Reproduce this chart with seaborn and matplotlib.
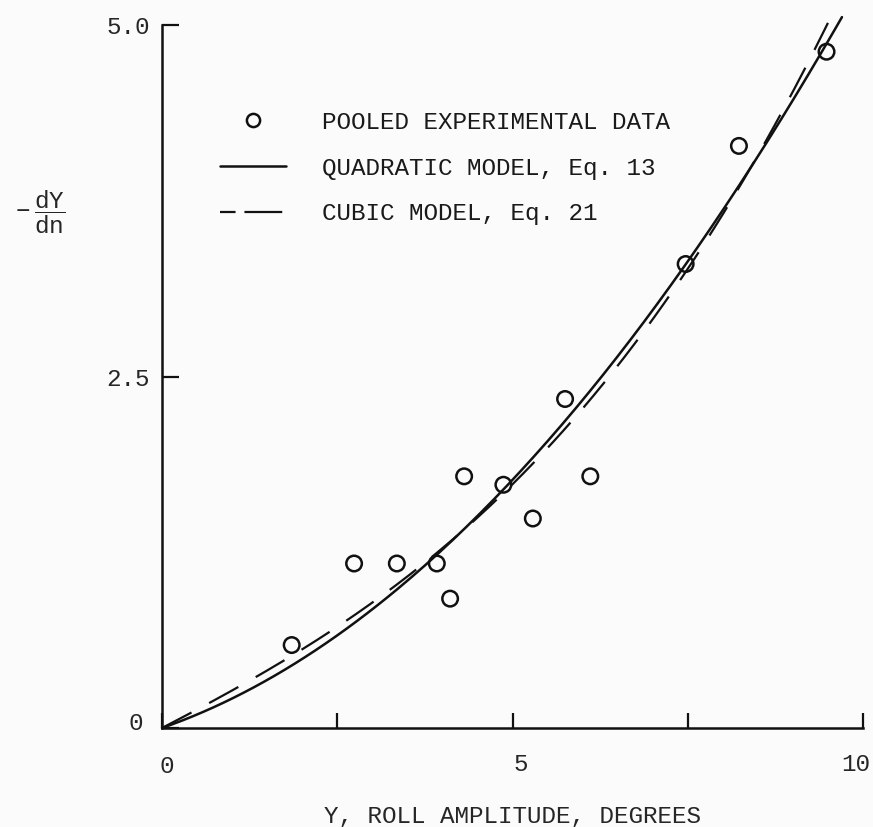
import numpy as np
import pandas as pd
import matplotlib
matplotlib.use("Agg")
import matplotlib.pyplot as plt
import matplotlib.transforms as mtransforms
from matplotlib.lines import Line2D
import seaborn as sns

# Pooled experimental points: roll amplitude (deg) vs -dY/dn
roll_amplitude = [1.85, 2.74, 3.35, 3.92, 4.11, 4.31, 4.87, 5.29, 5.75, 6.11, 7.47, 8.23, 9.48]
decay_rate = [0.59, 1.17, 1.17, 1.17, 0.92, 1.79, 1.73, 1.49, 2.34, 1.79, 3.30, 4.14, 4.81]

# Fitted model coefficients (linear, quadratic, cubic terms)
quadratic_coef = [0.174, 0.0358]
cubic_coef = [0.259, 0.0056, 0.00239]
quadratic_xmax = 9.7
cubic_xmax = 9.5

x_ticks = [0, 2.5, 5, 7.5, 10]
x_tick_labels = ["0", "", "5", "", "10"]
y_ticks = [0, 2.5, 5.0]
y_tick_labels = ["0", "2.5", "5.0"]

sns.set_style("ticks")
plt.rcParams["font.family"] = ["Liberation Mono", "DejaVu Sans"]
plt.rcParams["mathtext.fontset"] = "custom"
plt.rcParams["mathtext.rm"] = "Liberation Mono"
plt.rcParams["mathtext.it"] = "Liberation Mono"
plt.rcParams["text.color"] = "#1a1a1a"

FS = 17.5
INK = "#111111"

fig = plt.figure(figsize=(8.73, 8.27), dpi=100, facecolor="#fbfbfb")
ax = fig.add_axes([162 / 873, 1 - 728 / 827, 701 / 873, 703 / 827])
ax.set_facecolor("#fbfbfb")

xq = np.linspace(0, quadratic_xmax, 200)
yq = quadratic_coef[0] * xq + quadratic_coef[1] * xq ** 2
xc = np.linspace(0, cubic_xmax, 200)
yc = cubic_coef[0] * xc + cubic_coef[1] * xc ** 2 + cubic_coef[2] * xc ** 3

models = pd.DataFrame({"x": xq, "y": yq})
cubic = pd.DataFrame({"x": xc, "y": yc})
points = pd.DataFrame({"x": roll_amplitude, "y": decay_rate})

sns.lineplot(data=models, x="x", y="y", ax=ax, color=INK, lw=1.8,
             sort=False, estimator=None, clip_on=False)
sns.lineplot(data=cubic, x="x", y="y", ax=ax, color=INK, lw=1.6,
             sort=False, estimator=None, clip_on=False, dashes=False)
ax.lines[-1].set_dashes([15, 9])
sns.scatterplot(data=points, x="x", y="y", ax=ax, s=125, marker="o",
                facecolors="none", edgecolors=INK, linewidths=1.8,
                clip_on=False, zorder=5)

ax.set_xlim(0, 10)
ax.set_ylim(0, 5)
ax.margins(0)
sns.despine(ax=ax)
for s in ("left", "bottom"):
    ax.spines[s].set_linewidth(1.8)
    ax.spines[s].set_color(INK)

ax.set_xticks(x_ticks)
ax.set_xticklabels(x_tick_labels)
ax.set_yticks(y_ticks)
ax.set_yticklabels(y_tick_labels)
ax.tick_params(axis="x", direction="in", length=11, width=1.6, pad=18,
               labelsize=FS, color=INK)
ax.tick_params(axis="y", direction="in", length=12, width=1.6, pad=9,
               labelsize=FS, color=INK)

# small hand-lettered offsets of the tick labels (pixels)
x_shift = {"0": (5, 2), "5": (8, 0), "10": (-7, 0)}
for lab in ax.get_xticklabels():
    dx, dy = x_shift.get(lab.get_text(), (0, 0))
    lab.set_transform(lab.get_transform() + mtransforms.ScaledTranslation(dx / 100, -dy / 100, fig.dpi_scale_trans))
for lab in ax.get_yticklabels():
    if lab.get_text() == "0":
        lab.set_transform(lab.get_transform() + mtransforms.ScaledTranslation(-7 / 100, 7 / 100, fig.dpi_scale_trans))

ax.set_xlabel("Y, ROLL AMPLITUDE, DEGREES", fontsize=FS)
ax.xaxis.set_label_coords(0.5, -0.11)
ax.set_ylabel(r"$-\ \dfrac{\mathrm{dY}}{\mathrm{dn}}$", fontsize=FS,
              rotation=0, ha="center", va="center")
ax.yaxis.set_label_coords(-0.173, 0.733)

handles = [
    Line2D([], [], ls="none", marker="o", ms=9.5, mfc="none", mec=INK, mew=1.8),
    Line2D([], [], color=INK, lw=1.8),
    Line2D([], [], color=INK, lw=1.6, dashes=[7, 4, 17, 20]),
]
labels = ["POOLED EXPERIMENTAL DATA", "QUADRATIC MODEL, Eq. 13", "CUBIC MODEL, Eq. 21"]
ax.legend(handles, labels, loc="upper left", frameon=False, fontsize=FS,
          bbox_to_anchor=(220 / 873, 1 - 111 / 827), bbox_transform=fig.transFigure,
          handlelength=2.7, handletextpad=1.5, labelspacing=0.93, borderpad=0,
          borderaxespad=0)

fig.savefig("out.png", dpi=100, facecolor=fig.get_facecolor())
